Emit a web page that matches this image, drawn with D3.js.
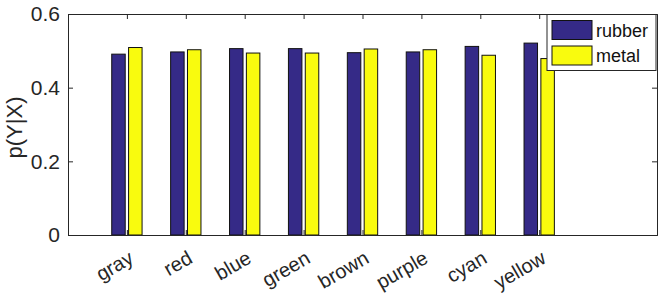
<!DOCTYPE html>
<html>
<head>
<meta charset="utf-8">
<script src="https://cdn.jsdelivr.net/npm/d3@7"></script>
<style>
  body { margin: 0; background: #fff; }
  svg { font-family: "Liberation Sans", Arial, sans-serif; }
  .axis text { fill: #262626; font-size: 21px; }
  .axis path, .axis line { stroke: #262626; }
</style>
</head>
<body>
<div id="chart"></div>
<script>
const categories = ['gray', 'red', 'blue', 'green', 'brown', 'purple', 'cyan', 'yellow'];
const seriesNames = ['rubber', 'metal'];
const rubber = [0.491, 0.497, 0.506, 0.506, 0.495, 0.497, 0.512, 0.521];
const metal = [0.509, 0.503, 0.494, 0.494, 0.505, 0.503, 0.488, 0.479];
const yTicks = [0, 0.2, 0.4, 0.6];
const colors = ['#352a87', '#f9fb0e'];

const W = 665, H = 295;
const margin = { top: 14, right: 8, bottom: 60, left: 68 };
const width = W - margin.left - margin.right,
      height = H - margin.top - margin.bottom;

const svg = d3.select('#chart').append('svg')
  .attr('width', W)
  .attr('height', H);

const g = svg.append('g')
  .attr('transform', 'translate(' + margin.left + ',' + margin.top + ')');

const x = d3.scaleLinear().domain([0, 10]).range([0, width]);
const y = d3.scaleLinear().domain([0, 0.6]).range([height, 0]);

const barW = 0.229, offset = 0.143;
const data = categories.map((c, i) => ({ cat: c, i: i + 1, vals: [rubber[i], metal[i]] }));

// bars
const groups = g.selectAll('g.cat').data(data).enter().append('g').attr('class', 'cat');
groups.selectAll('rect')
  .data(d => d.vals.map((v, k) => ({ pos: d.i, v: v, k: k })))
  .enter().append('rect')
    .attr('x', d => x(d.pos + (d.k === 0 ? -offset : offset) - barW / 2))
    .attr('width', x(barW) - x(0))
    .attr('y', d => y(d.v))
    .attr('height', d => y(0) - y(d.v))
    .attr('fill', d => colors[d.k])
    .attr('stroke', '#111')
    .attr('stroke-width', 1);

// axes (MATLAB box style, inward ticks)
const tickPos = d3.range(1, categories.length + 1);
const xBottom = d3.axisBottom(x).tickValues(tickPos).tickSize(-5).tickFormat('');
const xTop = d3.axisTop(x).tickValues(tickPos).tickSize(-5).tickFormat('');
const yLeft = d3.axisLeft(y).tickValues(yTicks).tickSize(-5).tickPadding(8).tickFormat(d3.format('~g'));
const yRight = d3.axisRight(y).tickValues(yTicks).tickSize(-5).tickFormat('');

g.append('g').attr('class', 'axis').attr('transform', 'translate(0,' + height + ')').call(xBottom);
g.append('g').attr('class', 'axis').call(xTop);
g.append('g').attr('class', 'axis').call(yLeft);
g.append('g').attr('class', 'axis').attr('transform', 'translate(' + width + ',0)').call(yRight);
g.selectAll('.axis path').attr('stroke-width', 1);

// rotated category labels
g.append('g').selectAll('text.xlab').data(data).enter().append('text')
  .attr('class', 'xlab')
  .attr('transform', d => 'translate(' + (x(d.i) + 8) + ',' + (height + 27) + ') rotate(-30)')
  .attr('text-anchor', 'end')
  .attr('fill', '#262626')
  .style('font-size', '20px')
  .text(d => d.cat);

// y label
svg.append('text')
  .attr('transform', 'translate(22,' + (margin.top + height / 2 + 3) + ') rotate(-90)')
  .attr('text-anchor', 'middle')
  .attr('fill', '#262626')
  .style('font-size', '22px')
  .text('p(Y|X)');

// legend
const legend = svg.append('g').attr('transform', 'translate(547,14.5)');
legend.append('rect')
  .attr('width', 109).attr('height', 56)
  .attr('fill', '#fff').attr('stroke', '#262626');
const items = legend.selectAll('g.item').data(seriesNames).enter().append('g')
  .attr('class', 'item')
  .attr('transform', (d, i) => 'translate(5,' + (6 + i * 25.5) + ')');
items.append('rect')
  .attr('width', 40).attr('height', 19)
  .attr('fill', (d, i) => colors[i]).attr('stroke', '#111');
items.append('text')
  .attr('x', 44).attr('y', 16)
  .attr('fill', '#111')
  .style('font-size', '18px')
  .text(d => d);
</script>
</body>
</html>
